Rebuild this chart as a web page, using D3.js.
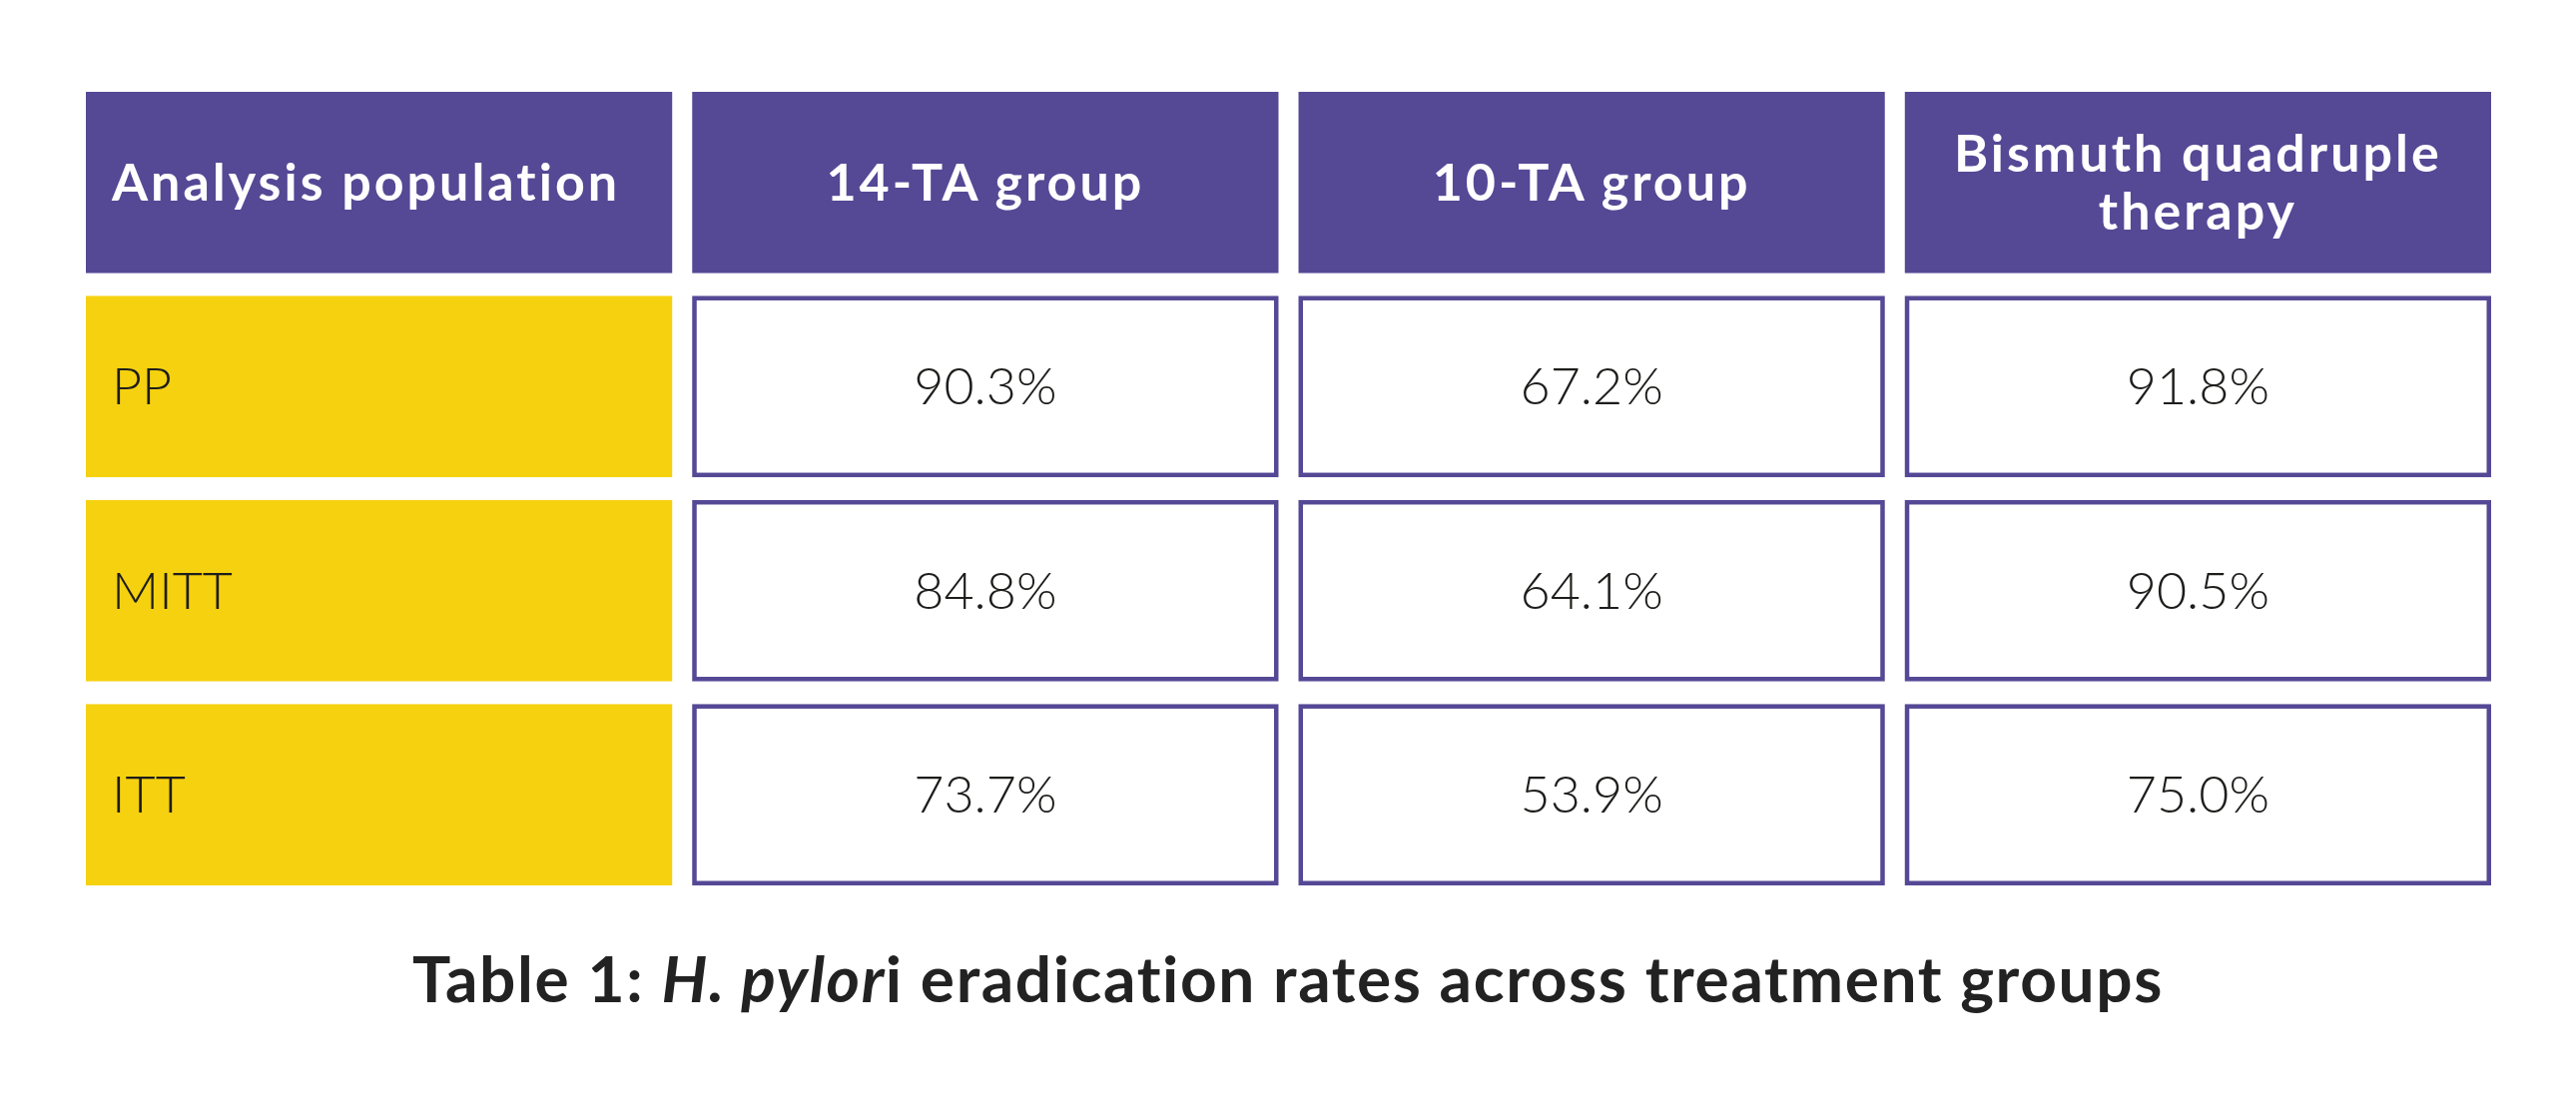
<!DOCTYPE html>
<html lang="en">
<head>
  <meta charset="UTF-8">
  <title>H. pylori eradication rates</title>
  <script src="https://d3js.org/d3.v7.min.js"></script>
  <style>
    html, body { margin: 0; padding: 0; background: #fff; }
    svg { display: block; }
    text { font-variant-ligatures: none; font-feature-settings: "liga" 0, "clig" 0; }
    .head-text { fill: #fff; font-family: Lato, "Open Sans", sans-serif; font-weight: 700; font-size: 52px; letter-spacing: 3px; }
    .cell-text { fill: #1d1d1b; font-family: Lato, "Open Sans", sans-serif; font-weight: 300; font-size: 52px; }
    .title { fill: #222; font-family: Lato, "Open Sans", sans-serif; font-weight: 700; font-size: 64px; letter-spacing: 1.6px; }
  </style>
</head>
<body>
  <svg id="chart" width="2580" height="1108"></svg>

  <script>
    // table content
    const columns = ['Analysis population', '14-TA group', '10-TA group', 'Bismuth quadruple therapy'];
    const headerLines = [['Analysis population'], ['14-TA group'], ['10-TA group'], ['Bismuth quadruple', 'therapy']];
    const populations = ['PP', 'MITT', 'ITT'];
    const rate14TA = ['90.3%', '84.8%', '73.7%'];
    const rate10TA = ['67.2%', '64.1%', '53.9%'];
    const rateBismuth = ['91.8%', '90.5%', '75.0%'];

    const width = 2580, height = 1108;
    const purple = '#554895', yellow = '#f6d10f';
    const svg = d3.select('#chart');

    const x = d3.scaleBand()
      .domain(columns)
      .range([86, 2495])
      .paddingInner(0.033);

    const rowKeys = ['header'].concat(populations);
    const y = d3.scaleBand()
      .domain(rowKeys)
      .range([92, 887])
      .paddingInner(0.112);

    // header row
    const head = svg.append('g');
    columns.forEach((c, i) => {
      head.append('rect')
        .attr('x', x(c)).attr('y', y('header'))
        .attr('width', x.bandwidth()).attr('height', y.bandwidth())
        .attr('fill', purple);
      const lines = headerLines[i];
      const lh = 58;
      const cy = y('header') + y.bandwidth() / 2;
      const tx = i === 0 ? x(c) + 26 : x(c) + x.bandwidth() / 2;
      const t = head.append('text')
        .attr('class', 'head-text')
        .attr('text-anchor', i === 0 ? 'start' : 'middle');
      lines.forEach((ln, j) => {
        t.append('tspan')
          .attr('x', tx)
          .attr('y', cy + (j - (lines.length - 1) / 2) * lh)
          .attr('dy', '0.35em')
          .text(ln);
      });
    });

    // body rows
    const rows = populations.map((p, i) => [p, rate14TA[i], rate10TA[i], rateBismuth[i]]);
    const body = svg.append('g');
    rows.forEach(r => {
      const ry = y(r[0]);
      r.forEach((v, j) => {
        const cx = x(columns[j]);
        if (j === 0) {
          body.append('rect')
            .attr('x', cx).attr('y', ry)
            .attr('width', x.bandwidth()).attr('height', y.bandwidth())
            .attr('fill', yellow);
        } else {
          body.append('rect')
            .attr('x', cx + 2.25).attr('y', ry + 2.25)
            .attr('width', x.bandwidth() - 4.5).attr('height', y.bandwidth() - 4.5)
            .attr('fill', '#fff')
            .attr('stroke', purple)
            .attr('stroke-width', 4.5);
        }
        body.append('text')
          .attr('class', 'cell-text')
          .attr('text-anchor', j === 0 ? 'start' : 'middle')
          .attr('x', j === 0 ? cx + 26 : cx + x.bandwidth() / 2)
          .attr('y', ry + y.bandwidth() / 2)
          .attr('dy', '0.35em')
          .text(v);
      });
    });

    // caption
    const title = svg.append('text')
      .attr('class', 'title')
      .attr('x', width / 2)
      .attr('y', 1004)
      .attr('text-anchor', 'middle');
    title.append('tspan').text('Table 1: ');
    title.append('tspan').attr('font-style', 'italic').text('H. pylor');
    title.append('tspan').text('i eradication rates across treatment groups');
  </script>
</body>
</html>
